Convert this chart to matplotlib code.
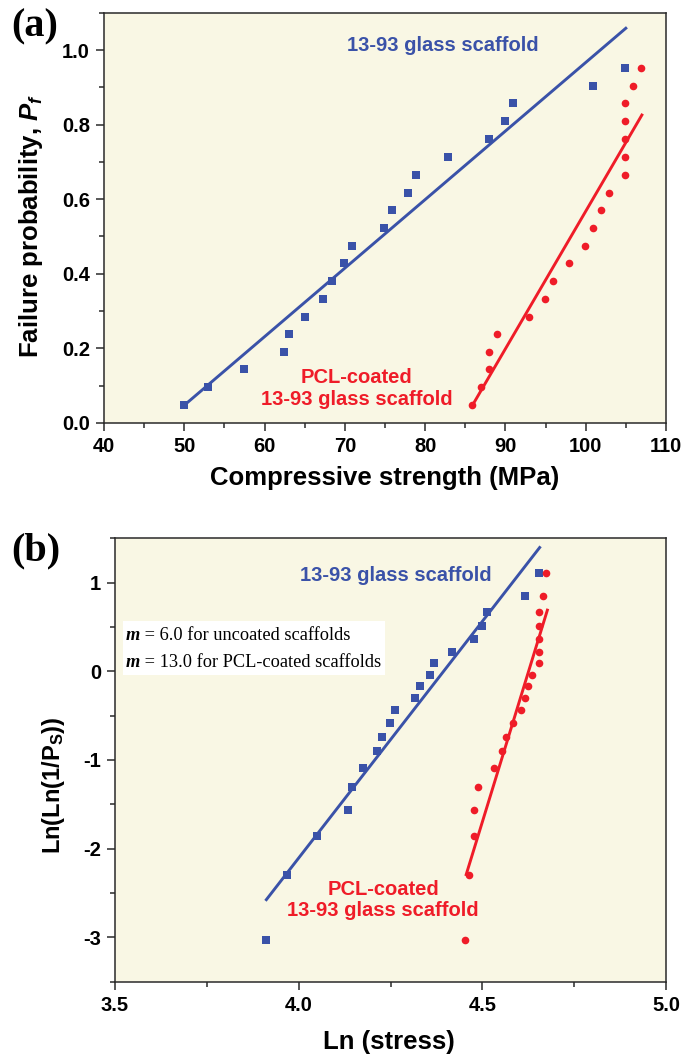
import matplotlib
matplotlib.use("Agg")
import matplotlib.pyplot as plt
from matplotlib.ticker import MultipleLocator

# ── Data ─────────────────────────────────────────────────────
pf = [0.047, 0.095, 0.143, 0.190, 0.238, 0.285, 0.332, 0.380, 0.428, 0.475,
      0.524, 0.572, 0.618, 0.666, 0.714, 0.761, 0.809, 0.857, 0.904, 0.952]
strength_uncoated = [50.0, 52.9, 57.4, 62.4, 63.0, 65.0, 67.3, 68.4, 69.9, 70.9,
                     74.9, 75.9, 77.9, 78.9, 82.9, 87.9, 89.9, 90.9, 100.9, 104.9]
strength_coated = [85.9, 86.9, 87.9, 87.9, 88.9, 92.9, 94.9, 95.9, 97.9, 99.9,
                   100.9, 101.9, 102.9, 104.9, 104.9, 104.9, 104.9, 104.9, 105.9, 106.9]
fit_a_uncoated_x = [50.0, 105.0]
fit_a_uncoated_y = [0.047, 1.059]
fit_a_coated_x = [85.9, 107.0]
fit_a_coated_y = [0.047, 0.826]

lnln = [-3.03, -2.30, -1.86, -1.56, -1.30, -1.09, -0.90, -0.74, -0.58, -0.44,
        -0.30, -0.17, -0.04, 0.09, 0.22, 0.36, 0.51, 0.67, 0.85, 1.11]
ln_uncoated = [3.912, 3.968, 4.050, 4.135, 4.145, 4.174, 4.212, 4.227, 4.248, 4.262,
               4.316, 4.331, 4.357, 4.369, 4.418, 4.476, 4.498, 4.514, 4.615, 4.653]
ln_coated = [4.454, 4.463, 4.476, 4.476, 4.489, 4.533, 4.554, 4.564, 4.584, 4.604,
             4.615, 4.625, 4.634, 4.653, 4.653, 4.653, 4.653, 4.653, 4.664, 4.673]
fit_b_uncoated_x = [3.912, 4.656]
fit_b_uncoated_y = [-2.575, 1.396]
fit_b_coated_x = [4.456, 4.677]
fit_b_coated_y = [-2.292, 0.690]

BLUE = "#3a52a8"
RED = "#ef1c28"
BG = "#f9f7e4"
SANS = "Liberation Sans"
SERIF = "Liberation Serif"

plt.rcParams.update({
    "font.family": SANS, "font.weight": "bold",
    "mathtext.fontset": "custom",
    "mathtext.rm": "Liberation Sans:bold",
    "mathtext.it": "Liberation Sans:bold:italic",
    "axes.edgecolor": "#2a2a2a", "axes.linewidth": 1.1,
})


def _style_axes(ax):
    ax.set_facecolor(BG)
    ax.tick_params(which="both", direction="out", width=1.1, color="#2a2a2a",
                   labelsize=14.5, pad=4, top=False, right=False)
    ax.tick_params(which="major", length=6)
    ax.tick_params(which="minor", length=3.5)
    for lab in ax.get_xticklabels() + ax.get_yticklabels():
        lab.set_fontweight("bold")


fig = plt.figure(figsize=(6.85, 10.63), dpi=100)

# ── Panel (a) ───────────────────────────────────────────────
ax1 = fig.add_axes([0.1518, 0.6023, 0.8204, 0.3855])
ax1.plot(strength_uncoated, pf, "s", color=BLUE, ms=5.3, mew=0)
ax1.plot(strength_coated, pf, "o", color=RED, ms=5.5, mew=0)
ax1.plot(fit_a_uncoated_x, fit_a_uncoated_y, color=BLUE, lw=2.1)
ax1.plot(fit_a_coated_x, fit_a_coated_y, color=RED, lw=2.1)
ax1.set_xlim(40, 110)
ax1.set_ylim(0, 1.1)
ax1.xaxis.set_major_locator(MultipleLocator(10))
ax1.xaxis.set_minor_locator(MultipleLocator(5))
ax1.yaxis.set_major_locator(MultipleLocator(0.2))
ax1.yaxis.set_minor_locator(MultipleLocator(0.1))
ax1.yaxis.set_major_formatter(lambda v, p: f"{v:.1f}")
_style_axes(ax1)
ax1.set_xlabel("Compressive strength (MPa)", fontsize=18.5, fontweight="bold", va="top")
ax1.xaxis.set_label_coords(0.499, -0.105)
ax1.set_ylabel(r"Failure probability, $\mathit{P_f}$", fontsize=18.5, fontweight="bold")
ax1.yaxis.set_label_coords(-0.105, 0.48)
ax1.text(82.2, 1.012, "13-93 glass scaffold", color=BLUE, fontsize=14.5,
         fontweight="bold", ha="center", va="center")
ax1.text(71.5, 0.092, "PCL-coated\n13-93 glass scaffold", color=RED, fontsize=14.5,
         fontweight="bold", ha="center", va="center", linespacing=1.15)

# ── Panel (b) ───────────────────────────────────────────────
ax2 = fig.add_axes([0.1679, 0.0765, 0.8044, 0.4171])
ax2.plot(ln_uncoated, lnln, "s", color=BLUE, ms=5.3, mew=0)
ax2.plot(ln_coated, lnln, "o", color=RED, ms=5.5, mew=0)
ax2.plot(fit_b_uncoated_x, fit_b_uncoated_y, color=BLUE, lw=2.1)
ax2.plot(fit_b_coated_x, fit_b_coated_y, color=RED, lw=2.1)
ax2.set_xlim(3.5, 5.0)
ax2.set_ylim(-3.5, 1.5)
ax2.xaxis.set_major_locator(MultipleLocator(0.5))
ax2.xaxis.set_minor_locator(MultipleLocator(0.25))
ax2.yaxis.set_major_locator(MultipleLocator(1))
ax2.yaxis.set_minor_locator(MultipleLocator(0.5))
ax2.xaxis.set_major_formatter(lambda v, p: f"{v:.1f}")
ax2.yaxis.set_major_formatter(lambda v, p: f"{v:.0f}")
_style_axes(ax2)
ax2.set_xlabel("Ln (stress)", fontsize=18.5, fontweight="bold", va="top")
ax2.xaxis.set_label_coords(0.497, -0.109)
ax2.set_ylabel(r"Ln(Ln(1/$\mathrm{P_S}$))", fontsize=17, fontweight="bold")
ax2.yaxis.set_label_coords(-0.087, 0.444)
ax2.text(4.264, 1.08, "13-93 glass scaffold", color=BLUE, fontsize=14.5,
         fontweight="bold", ha="center", va="center")
ax2.text(4.23, -2.583, "PCL-coated\n13-93 glass scaffold", color=RED, fontsize=14.5,
         fontweight="bold", ha="center", va="center", linespacing=1.15)

# m-value box
ax2.add_patch(plt.Rectangle((3.522, -0.04), 0.714, 0.613, facecolor="white",
                            edgecolor="none", zorder=1))
for yy, rest in [(0.355, " = 6.0 for uncoated scaffolds"),
                 (0.05, " = 13.0 for PCL-coated scaffolds")]:
    m = ax2.text(3.530, yy, "m", family=SERIF, fontsize=13.2, fontweight="bold",
                 fontstyle="italic", va="baseline", ha="left", zorder=2)
    ax2.annotate(rest, xy=(1, 0), xycoords=m, family=SERIF, fontsize=13.2,
                 fontweight="normal", va="bottom", ha="left", zorder=2)

# panel labels
fig.text(0.017, 0.9746, "(a)", family=SERIF, fontsize=29, fontweight="bold",
         ha="left", va="center")
fig.text(0.017, 0.4817, "(b)", family=SERIF, fontsize=29, fontweight="bold",
         ha="left", va="center")

fig.savefig("out.png", dpi=100, facecolor="white")
